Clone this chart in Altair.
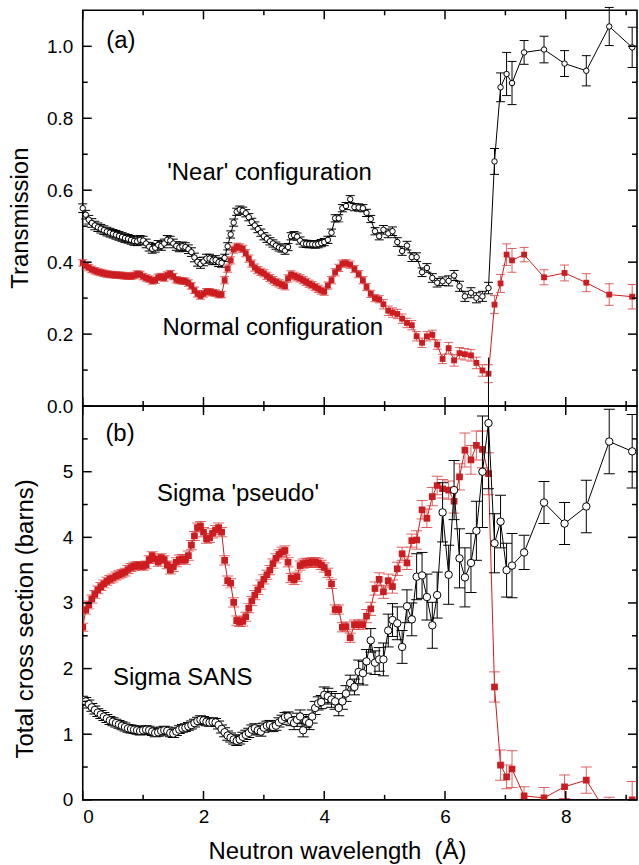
import altair as alt
import pandas as pd

# ---------------- data ----------------
LAMBDA = [
    0.00, 0.05, 0.10, 0.15, 0.20, 0.25, 0.30, 0.35, 0.40, 0.45,
    0.50, 0.55, 0.60, 0.65, 0.70, 0.75, 0.80, 0.85, 0.90, 0.95,
    1.00, 1.05, 1.10, 1.15, 1.20, 1.25, 1.30, 1.35, 1.40, 1.45,
    1.50, 1.55, 1.60, 1.65, 1.70, 1.75, 1.80, 1.85, 1.90, 1.95,
    2.00, 2.05, 2.10, 2.15, 2.20, 2.25, 2.30, 2.35, 2.40, 2.45,
    2.50, 2.55, 2.60, 2.65, 2.70, 2.75, 2.80, 2.85, 2.90, 2.95,
    3.00, 3.05, 3.10, 3.15, 3.20, 3.25, 3.30, 3.35, 3.40, 3.45,
    3.50, 3.55, 3.60, 3.65, 3.70, 3.75, 3.80, 3.85, 3.90, 3.95,
    4.00, 4.06, 4.12, 4.18, 4.24, 4.30, 4.36, 4.43, 4.50, 4.57,
    4.64, 4.70, 4.77, 4.84, 4.91, 4.98, 5.06, 5.13, 5.21, 5.29,
    5.37, 5.45, 5.53, 5.62, 5.70, 5.79, 5.87, 5.96, 6.06, 6.15,
    6.24, 6.33, 6.43, 6.52, 6.62, 6.72,
    6.82, 6.92, 7.02, 7.11, 7.31, 7.64, 7.98, 8.34, 8.72, 9.10,
]

T_NEAR = [
    0.550, 0.532, 0.518, 0.509, 0.502, 0.497, 0.493, 0.489, 0.485, 0.482,
    0.479, 0.476, 0.473, 0.470, 0.467, 0.465, 0.462, 0.459, 0.458, 0.462,
    0.460, 0.452, 0.443, 0.437, 0.440, 0.448, 0.445, 0.452, 0.462, 0.460,
    0.452, 0.445, 0.441, 0.444, 0.442, 0.436, 0.428, 0.413, 0.401, 0.395,
    0.402, 0.410, 0.410, 0.405, 0.406, 0.400, 0.398, 0.412, 0.444, 0.477,
    0.510, 0.540, 0.546, 0.543, 0.536, 0.525, 0.512, 0.502, 0.492, 0.482,
    0.472, 0.465, 0.458, 0.452, 0.446, 0.441, 0.438, 0.432, 0.442, 0.472,
    0.475, 0.471, 0.460, 0.452, 0.451, 0.450, 0.450, 0.449, 0.450, 0.453,
    0.456, 0.462, 0.482, 0.522, 0.522, 0.550, 0.556, 0.575, 0.553, 0.552,
    0.550, 0.537, 0.520, 0.486, 0.472, 0.490, 0.480, 0.486, 0.456, 0.431,
    0.446, 0.414, 0.414, 0.372, 0.384, 0.356, 0.343, 0.347, 0.348, 0.363,
    0.333, 0.305, 0.315, 0.301, 0.305, 0.328,
    0.680, 0.886, 0.923, 0.898, 0.983, 0.991, 0.952, 0.932, 1.055, 0.997,
]
T_NEAR_ERR = [
    0.012, 0.012, 0.012, 0.012, 0.012, 0.012, 0.012, 0.012, 0.012, 0.012,
    0.012, 0.012, 0.012, 0.012, 0.012, 0.012, 0.012, 0.012, 0.012, 0.012,
    0.012, 0.012, 0.012, 0.012, 0.012, 0.012, 0.012, 0.012, 0.012, 0.012,
    0.012, 0.012, 0.012, 0.012, 0.012, 0.012, 0.012, 0.012, 0.012, 0.012,
    0.012, 0.012, 0.012, 0.012, 0.012, 0.012, 0.012, 0.010, 0.010, 0.010,
    0.010, 0.010, 0.010, 0.010, 0.010, 0.010, 0.010, 0.010, 0.010, 0.010,
    0.010, 0.010, 0.010, 0.010, 0.010, 0.010, 0.010, 0.010, 0.010, 0.010,
    0.010, 0.010, 0.010, 0.010, 0.010, 0.010, 0.010, 0.010, 0.010, 0.010,
    0.010, 0.010, 0.010, 0.010, 0.010, 0.010, 0.010, 0.010, 0.010, 0.010,
    0.010, 0.010, 0.010, 0.010, 0.010, 0.012, 0.012, 0.012, 0.012, 0.012,
    0.012, 0.012, 0.012, 0.012, 0.012, 0.012, 0.012, 0.012, 0.014, 0.014,
    0.014, 0.014, 0.014, 0.014, 0.014, 0.016,
    0.036, 0.040, 0.060, 0.060, 0.033, 0.037, 0.036, 0.042, 0.053, 0.056,
]

T_NORMAL = [
    0.398, 0.390, 0.385, 0.380, 0.376, 0.373, 0.371, 0.369, 0.367, 0.366,
    0.365, 0.364, 0.364, 0.363, 0.362, 0.361, 0.361, 0.363, 0.367, 0.366,
    0.360, 0.356, 0.353, 0.348, 0.350, 0.358, 0.360, 0.356, 0.364, 0.368,
    0.360, 0.351, 0.349, 0.348, 0.347, 0.342, 0.334, 0.322, 0.312, 0.306,
    0.312, 0.318, 0.318, 0.315, 0.314, 0.310, 0.310, 0.350, 0.382, 0.405,
    0.435, 0.443, 0.441, 0.437, 0.425, 0.410, 0.396, 0.385, 0.378, 0.373,
    0.369, 0.362, 0.356, 0.350, 0.345, 0.341, 0.337, 0.333, 0.355, 0.366,
    0.362, 0.358, 0.355, 0.350, 0.345, 0.340, 0.336, 0.331, 0.326, 0.321,
    0.318, 0.335, 0.350, 0.372, 0.384, 0.396, 0.397, 0.393, 0.381, 0.367,
    0.350, 0.331, 0.312, 0.300, 0.297, 0.283, 0.265, 0.260, 0.256, 0.243,
    0.231, 0.225, 0.194, 0.176, 0.194, 0.198, 0.171, 0.131, 0.161, 0.127,
    0.147, 0.144, 0.141, 0.120, 0.099, 0.090,
    0.282, 0.341, 0.421, 0.405, 0.421, 0.358, 0.370, 0.343, 0.310, 0.304,
]
T_NORMAL_ERR = [
    0.009, 0.009, 0.009, 0.009, 0.009, 0.009, 0.009, 0.009, 0.009, 0.009,
    0.009, 0.009, 0.009, 0.009, 0.009, 0.009, 0.009, 0.009, 0.009, 0.009,
    0.009, 0.009, 0.009, 0.009, 0.009, 0.009, 0.009, 0.009, 0.009, 0.009,
    0.009, 0.009, 0.009, 0.009, 0.009, 0.009, 0.009, 0.009, 0.009, 0.009,
    0.009, 0.009, 0.009, 0.009, 0.009, 0.009, 0.009, 0.010, 0.010, 0.010,
    0.010, 0.010, 0.010, 0.010, 0.010, 0.010, 0.010, 0.010, 0.010, 0.010,
    0.010, 0.010, 0.010, 0.010, 0.010, 0.010, 0.010, 0.010, 0.010, 0.010,
    0.010, 0.010, 0.010, 0.010, 0.010, 0.010, 0.010, 0.010, 0.010, 0.010,
    0.010, 0.010, 0.010, 0.010, 0.010, 0.010, 0.010, 0.010, 0.010, 0.010,
    0.010, 0.010, 0.010, 0.010, 0.010, 0.013, 0.013, 0.013, 0.013, 0.013,
    0.013, 0.013, 0.013, 0.013, 0.013, 0.013, 0.013, 0.013, 0.016, 0.016,
    0.016, 0.016, 0.016, 0.016, 0.016, 0.025,
    0.025, 0.025, 0.030, 0.033, 0.020, 0.021, 0.022, 0.025, 0.030, 0.034,
]

SIGMA_PSEUDO = [
    2.63, 2.89, 2.97, 3.06, 3.13, 3.20, 3.25, 3.29, 3.33, 3.36,
    3.38, 3.41, 3.43, 3.45, 3.47, 3.51, 3.54, 3.56, 3.57, 3.57,
    3.56, 3.58, 3.66, 3.72, 3.67, 3.62, 3.69, 3.66, 3.58, 3.50,
    3.55, 3.62, 3.66, 3.67, 3.66, 3.72, 3.88, 4.02, 4.15, 4.17,
    4.08, 3.98, 3.99, 4.06, 4.11, 4.15, 4.08, 3.65, 3.34, 3.30,
    3.01, 2.73, 2.71, 2.72, 2.79, 2.92, 3.03, 3.12, 3.20, 3.28,
    3.36, 3.43, 3.50, 3.60, 3.68, 3.74, 3.78, 3.80, 3.62, 3.38,
    3.35, 3.40, 3.57, 3.60, 3.61, 3.61, 3.62, 3.62, 3.61, 3.58,
    3.54, 3.46, 3.29, 2.90, 2.90, 2.63, 2.64, 2.47, 2.67, 2.67,
    2.67, 2.80, 2.91, 3.22, 3.36, 3.17, 3.34, 3.25, 3.52, 3.75,
    3.61, 3.95, 3.96, 4.42, 4.29, 4.62, 4.79, 4.74, 4.72, 4.55,
    4.92, 5.33, 5.18, 5.40, 5.34, 4.97,
    1.72, 0.53, 0.35, 0.47, 0.06, 0.03, 0.20, 0.30, -0.26, 0.00,
]
SIGMA_PSEUDO_ERR = [
    0.06, 0.06, 0.06, 0.06, 0.06, 0.06, 0.06, 0.06, 0.06, 0.06,
    0.06, 0.06, 0.06, 0.06, 0.06, 0.06, 0.06, 0.06, 0.06, 0.06,
    0.06, 0.06, 0.06, 0.06, 0.06, 0.06, 0.06, 0.06, 0.06, 0.06,
    0.07, 0.07, 0.07, 0.07, 0.07, 0.07, 0.07, 0.07, 0.07, 0.07,
    0.07, 0.07, 0.07, 0.07, 0.07, 0.07, 0.07, 0.07, 0.07, 0.07,
    0.07, 0.07, 0.07, 0.07, 0.07, 0.07, 0.07, 0.07, 0.07, 0.07,
    0.07, 0.07, 0.07, 0.07, 0.07, 0.07, 0.07, 0.07, 0.07, 0.07,
    0.07, 0.07, 0.07, 0.07, 0.07, 0.07, 0.07, 0.07, 0.07, 0.07,
    0.07, 0.07, 0.07, 0.07, 0.07, 0.07, 0.07, 0.07, 0.07, 0.07,
    0.07, 0.10, 0.10, 0.10, 0.10, 0.10, 0.10, 0.10, 0.10, 0.10,
    0.10, 0.10, 0.14, 0.14, 0.14, 0.14, 0.14, 0.14, 0.14, 0.18,
    0.20, 0.26, 0.22, 0.22, 0.28, 0.32,
    0.23, 0.23, 0.18, 0.28, 0.14, 0.16, 0.18, 0.20, 0.30, 0.28,
]

SIGMA_SANS = [
    1.52, 1.50, 1.46, 1.41, 1.37, 1.33, 1.30, 1.27, 1.24, 1.21,
    1.19, 1.17, 1.15, 1.13, 1.11, 1.09, 1.08, 1.07, 1.06, 1.05,
    1.06, 1.07, 1.06, 1.04, 1.02, 1.03, 1.05, 1.06, 1.05, 1.02,
    1.01, 1.04, 1.07, 1.09, 1.10, 1.12, 1.14, 1.17, 1.20, 1.22,
    1.21, 1.19, 1.18, 1.19, 1.18, 1.14, 1.08, 1.03, 0.98, 0.95,
    0.92, 0.90, 0.92, 0.96, 0.99, 1.02, 1.07, 1.09, 1.06, 1.04,
    1.10, 1.13, 1.14, 1.11, 1.13, 1.18, 1.22, 1.26, 1.27, 1.20,
    1.17, 1.22, 1.27, 1.06, 1.20, 1.17, 1.27, 1.40, 1.47, 1.49,
    1.60, 1.58, 1.53, 1.50, 1.40, 1.50, 1.62, 1.78, 1.72, 1.95,
    1.93, 2.11, 2.43, 2.09, 2.14, 2.14, 2.58, 2.74, 2.69, 2.33,
    2.95, 2.75, 3.40, 3.42, 3.09, 2.66, 3.12, 4.38, 3.43, 4.72,
    3.68, 3.39, 3.61, 4.10, 5.00, 5.74,
    3.91, 4.24, 3.50, 3.57, 3.77, 4.53, 4.21, 4.47, 5.46, 5.31,
]
SIGMA_SANS_ERR = [
    0.06, 0.06, 0.06, 0.06, 0.06, 0.06, 0.06, 0.06, 0.06, 0.06,
    0.06, 0.06, 0.06, 0.06, 0.06, 0.06, 0.06, 0.06, 0.06, 0.06,
    0.06, 0.06, 0.06, 0.06, 0.06, 0.06, 0.06, 0.06, 0.06, 0.06,
    0.06, 0.06, 0.06, 0.06, 0.06, 0.06, 0.06, 0.06, 0.06, 0.06,
    0.06, 0.06, 0.06, 0.06, 0.06, 0.06, 0.06, 0.07, 0.07, 0.07,
    0.07, 0.07, 0.07, 0.07, 0.07, 0.07, 0.07, 0.07, 0.07, 0.07,
    0.07, 0.07, 0.07, 0.07, 0.07, 0.07, 0.07, 0.07, 0.07, 0.07,
    0.10, 0.10, 0.10, 0.10, 0.10, 0.10, 0.10, 0.10, 0.10, 0.10,
    0.12, 0.12, 0.12, 0.12, 0.12, 0.12, 0.12, 0.12, 0.12, 0.18,
    0.18, 0.18, 0.18, 0.18, 0.18, 0.25, 0.25, 0.25, 0.25, 0.25,
    0.25, 0.25, 0.35, 0.35, 0.35, 0.35, 0.35, 0.45, 0.45, 0.45,
    0.45, 0.45, 0.45, 0.45, 0.85, 1.00,
    0.45, 0.40, 0.41, 0.49, 0.26, 0.32, 0.32, 0.40, 0.49, 0.56,
]

# axis tick values
X_MAJOR = [0, 2, 4, 6, 8]
X_MINOR = [1, 3, 5, 7, 9]
TOP_Y_MAJOR = [0.0, 0.2, 0.4, 0.6, 0.8, 1.0]
TOP_Y_MINOR = [0.1, 0.3, 0.5, 0.7, 0.9]
BOT_Y_MAJOR = [0, 1, 2, 3, 4, 5]
BOT_Y_MINOR = [0.5, 1.5, 2.5, 3.5, 4.5, 5.5]

# annotations
TOP_TEXT = ["(a)", "'Near' configuration", "Normal configuration"]
TOP_TEXT_X = [0.39, 1.40, 1.32]
TOP_TEXT_Y = [1.014, 0.648, 0.216]
BOT_TEXT = ["(b)", "Sigma 'pseudo'", "Sigma SANS"]
BOT_TEXT_X = [0.375, 1.23, 0.50]
BOT_TEXT_Y = [5.575, 4.66, 1.85]

for arr in (T_NEAR, T_NEAR_ERR, T_NORMAL, T_NORMAL_ERR, SIGMA_PSEUDO,
            SIGMA_PSEUDO_ERR, SIGMA_SANS, SIGMA_SANS_ERR):
    assert len(arr) == len(LAMBDA), len(arr)

# ---------------- styling ----------------
FONT = "Liberation Sans"
RED = "#cc1c1f"
RED_ERR = "#d83a3a"
W = 556
H_TOP = 397
H_BOT = 395
XDOM = [0, 9.18]
MAJ = 9
MIN = 5


def frame(vals, errs):
    return pd.DataFrame({
        "x": LAMBDA,
        "y": vals,
        "lo": [v - e for v, e in zip(vals, errs)],
        "hi": [v + e for v, e in zip(vals, errs)],
    })


def make_enc(xaxis, ydom, yaxis):
    def X(field):
        return alt.X(field, type="quantitative",
                     scale=alt.Scale(domain=XDOM, nice=False, zero=False),
                     axis=xaxis)

    def Y(field):
        return alt.Y(field, type="quantitative",
                     scale=alt.Scale(domain=ydom, nice=False, zero=False),
                     axis=yaxis)
    return X, Y


def series(df, X, Y, kind, size, cap, clip, rule_clip):
    base = alt.Chart(df)
    if kind == "square":
        lc, ec, eop = RED, RED_ERR, 0.8
    else:
        lc, ec, eop = "black", "black", 1.0
    line = base.mark_line(color=lc, strokeWidth=1, clip=clip).encode(
        x=X("x"), y=Y("y"))
    bars = base.mark_rule(color=ec, opacity=eop, strokeWidth=1,
                          clip=rule_clip).encode(
        x=X("x"), y=Y("lo"), y2=alt.Y2("hi"))
    cap_lo = base.mark_tick(orient="horizontal", size=cap, thickness=1,
                            color=ec, opacity=eop, clip=clip).encode(
        x=X("x"), y=Y("lo"))
    cap_hi = base.mark_tick(orient="horizontal", size=cap, thickness=1,
                            color=ec, opacity=eop, clip=clip).encode(
        x=X("x"), y=Y("hi"))
    if kind == "square":
        pts = base.mark_point(shape="square", filled=True, color=RED,
                              size=size, opacity=1, clip=clip).encode(
            x=X("x"), y=Y("y"))
    else:
        pts = base.mark_point(shape="circle", filled=True, fill="white",
                              stroke="black", strokeWidth=1, size=size,
                              opacity=1, clip=clip).encode(
            x=X("x"), y=Y("y"))
    return [line, bars, cap_lo, cap_hi, pts]


def tick_layers(X, Y, H, ymaj, ymin):
    out = []
    for vals, ln in ((ymaj, MAJ), (ymin, MIN)):
        d = pd.DataFrame({"v": vals})
        out.append(alt.Chart(d).mark_rule(color="black", strokeWidth=1.5).encode(
            y=Y("v"), x=alt.value(0), x2=alt.value(ln)))
        out.append(alt.Chart(d).mark_rule(color="black", strokeWidth=1.5).encode(
            y=Y("v"), x=alt.value(W), x2=alt.value(W - ln)))
    for vals, ln in ((X_MAJOR, MAJ), (X_MINOR, MIN)):
        d = pd.DataFrame({"v": vals})
        out.append(alt.Chart(d).mark_rule(color="black", strokeWidth=1.5).encode(
            x=X("v"), y=alt.value(0), y2=alt.value(ln)))
        out.append(alt.Chart(d).mark_rule(color="black", strokeWidth=1.5).encode(
            x=X("v"), y=alt.value(H), y2=alt.value(H - ln)))
    return out


def texts(X, Y, labels, xs, ys):
    d = pd.DataFrame({"t": labels, "x": xs, "y": ys})
    return alt.Chart(d).mark_text(align="left", baseline="middle",
                                  fontSize=24, font=FONT, color="black").encode(
        x=X("x"), y=Y("y"), text="t")


# ---------------- top panel ----------------
top_yaxis = alt.Axis(values=TOP_Y_MAJOR, format=".1f", ticks=False, tickSize=0,
                     domain=False, grid=False, labelFontSize=19,
                     labelPadding=10, title="Transmission", titleFontSize=24,
                     titleFontWeight="normal", titleX=-62, titleY=208,
                     titleBaseline="middle", titleAlign="center",
                     titleAngle=270)
Xt, Yt = make_enc(None, [0, 1.1], top_yaxis)
top_layers = (
    series(frame(T_NEAR, T_NEAR_ERR), Xt, Yt, "circle", 30, 9, False, False)
    + series(frame(T_NORMAL, T_NORMAL_ERR), Xt, Yt, "square", 34, 9, False, False)
    + tick_layers(Xt, Yt, H_TOP, TOP_Y_MAJOR, TOP_Y_MINOR)
    + [texts(Xt, Yt, TOP_TEXT, TOP_TEXT_X, TOP_TEXT_Y)]
)
top = alt.layer(*top_layers).properties(width=W, height=H_TOP)

# ---------------- bottom panel ----------------
bot_yaxis = alt.Axis(values=BOT_Y_MAJOR, format="d", ticks=False, tickSize=0,
                     domain=False, grid=False, labelFontSize=19,
                     labelPadding=10, title="Total cross section (barns)",
                     titleFontSize=24, titleFontWeight="normal", titleX=-57,
                     titleY=213, titleBaseline="middle", titleAlign="center",
                     titleAngle=270)
bot_xaxis = alt.Axis(values=X_MAJOR, format="d", ticks=False, tickSize=0,
                     domain=False, grid=False, labelFontSize=19,
                     labelPadding=8, title="Neutron wavelength\u00a0 (\u00c5)",
                     titleFontSize=24, titleFontWeight="normal", titleX=255,
                     titleY=59, titleBaseline="alphabetic",
                     titleAlign="center")
Xb, Yb = make_enc(bot_xaxis, [0, 6.0], bot_yaxis)
bot_layers = (
    series(frame(SIGMA_PSEUDO, SIGMA_PSEUDO_ERR), Xb, Yb, "square", 45, 11, True, True)
    + series(frame(SIGMA_SANS, SIGMA_SANS_ERR), Xb, Yb, "circle", 56, 11, True, False)
    + tick_layers(Xb, Yb, H_BOT, BOT_Y_MAJOR, BOT_Y_MINOR)
    + [texts(Xb, Yb, BOT_TEXT, BOT_TEXT_X, BOT_TEXT_Y)]
)
bottom = alt.layer(*bot_layers).properties(width=W, height=H_BOT)

chart = (
    alt.vconcat(top, bottom, spacing=0, bounds="flush")
    .properties(padding={"left": 8, "top": 4, "right": 0, "bottom": 0},
                background="white")
    .configure(font=FONT)
    .configure_view(stroke="black", strokeWidth=1.6)
    .configure_axis(labelColor="black", titleColor="black", labelFont=FONT,
                    titleFont=FONT)
)

chart.save("out.html", embed_options={"renderer": "svg", "actions": False})
